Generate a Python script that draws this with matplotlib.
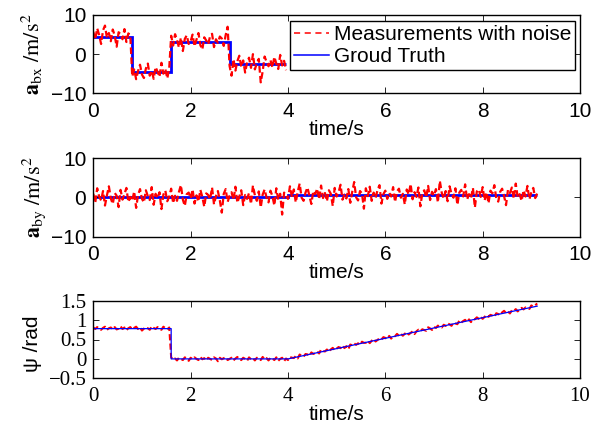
import numpy as np
import matplotlib
matplotlib.use("Agg")
import matplotlib.pyplot as plt
from matplotlib import ticker

plt.rcParams["mathtext.fontset"] = "stix"
plt.rcParams["axes.unicode_minus"] = True

SANS = "Liberation Sans"
SERIF = "Liberation Serif"
FS = 15

# ---- sample grid (s) ----
dt = 0.04
n_long = 229            # 0 .. 9.12 s
n_short = 100           # 0 .. 3.96 s

# ---- a_bx : ground truth steps and measurement noise ----
abx_edges = [0.0, 0.8, 1.6, 2.8, 3.96]
abx_levels = [4.5, -4.6, 3.1, -2.6]
abx_noise = [
    1.2, -0.8, 2.1, 0.4, -1.9, 1.6, 2.8, -0.3, 0.9, -1.2, 1.8, 0.2, -2.6, 1.1, 0.6, -0.7, 1.9, -1.4, 0.8, 0.3,
    -1.1, 0.7, -1.8, 0.3, 1.9, -0.6, -1.5, 0.9, 2.2, -0.9, 0.4, -1.7, 1.3, 0.1, -1.2, 2.4, -0.4, 0.8, -1.6, 1.0,
    1.6, -0.9, 2.0, 0.5, -1.4, 1.1, -2.3, 0.8, 1.7, -0.5, 0.2, 1.9, -1.1, 0.6, 2.3, -0.8, -1.9, 1.2, 0.4, -0.6,
    1.5, 2.1, -1.3, 0.7, -0.2, 1.4, 0.9, -1.0, 1.8, 3.9,
    -0.4, -2.9, 1.3, -1.6, 0.8, 2.2, -0.7, 1.0, -2.1, 0.5, 1.7, -0.9, 2.6, -1.3, 0.3, 1.4, -4.6, -1.8, 2.0, 0.6,
    -0.5, 1.1, -0.8, 1.9, 0.2, -1.2, 2.4, -0.3, 0.9, -1.5,
]

# ---- a_by : ground truth steps and measurement noise ----
aby_edges = [0.0, 4.0, 9.12]
aby_levels = [0.05, 0.65]
aby_noise = [
    0.9, -1.4, 2.3, 0.2, -0.8, 1.6, -2.1, 0.5, 2.8, -0.3, -1.7, 1.1, 0.4, -2.5, 1.9, -0.6, 0.8, 2.4, -1.2, 0.1,
    -0.9, 1.5, -2.7, 0.6, 2.1, -0.4, -1.3, 1.8, 0.3, -0.7, 2.6, -1.9, 0.9, -0.2, 1.3, -3.0, 0.7, 1.7, -1.0, 0.2,
    2.2, -1.5, 0.4, -0.9, 1.4, 3.1, -0.6, -2.2, 0.8, 1.2, -0.3, 2.0, -1.6, 0.5, -1.1, 1.9, 0.1, -2.4, 1.0, 0.6,
    -0.5, 2.5, -1.8, 0.3, 1.6, -0.8, -3.9, 0.9, 2.1, -1.2, 0.4, 1.3, -0.7, 2.7, -1.4, 0.2, 1.8, -2.0, 0.6, -0.4,
    1.1, -1.7, 3.0, 0.5, -0.9, 1.5, -2.6, 0.7, 2.0, -0.1, -1.3, 1.7, 0.3, -2.1, 2.3, -0.6, 0.9, -4.4, 1.2, 0.4,
    -1.0, 2.2, -0.5, 1.4, -1.9, 0.8, 2.9, -0.7, -1.5, 0.6, 1.9, -0.2, -2.3, 1.0, 0.2, 1.6, -1.1, 2.4, -0.8, 0.5,
    -1.6, 1.2, 0.3, -2.8, 1.8, -0.4, 0.7, 2.6, -1.2, 0.1, -0.9, 1.5, -2.0, 0.8, 3.3, -0.6, -1.4, 1.0, 0.4, -3.5,
    1.7, -0.3, 2.1, -1.5, 0.6, -0.8, 1.3, 2.5, -2.2, 0.2, 1.1, -1.0, 0.5, -0.4, 2.0, -1.8, 0.9, 1.6, -0.7, 0.3,
    -2.4, 1.4, 0.1, 2.8, -1.1, 0.7, -0.5, 1.9, -2.9, 0.4, 1.2, -0.6, 2.3, -1.3, 0.8, -0.2, 1.5, -1.9, 3.6, 0.5,
    -0.9, 1.0, -1.6, 2.2, 0.3, -0.7, 1.7, -2.5, 0.6, 1.3, -0.4, 2.7, -1.2, 0.2, -0.8, 1.8, -3.2, 0.9, 1.4, -0.5,
    2.0, -1.4, 0.7, -2.1, 1.1, 0.4, 2.5, -0.9, -1.7, 0.8, 1.6, -0.3, -2.6, 1.3, 0.5, 1.9, -1.0, 2.9, -0.6, 0.2,
    -1.5, 1.2, -0.4, 2.3, -1.1, 0.6, 1.8, -0.8, 0.4,
]

# ---- heading psi : ground truth knots and measurement noise ----
psi_knot_t = [0.0, 1.6, 1.6, 4.0, 9.12]
psi_knot_v = [0.78, 0.78, 0.0, 0.0, 1.36]
psi_noise = [
    0.03, -0.01, 0.04, 0.00, -0.03, 0.02, 0.05, -0.03, 0.01, 0.03, -0.02, 0.04, -0.02, 0.00, 0.06, -0.01, 0.03, -0.04, 0.01, 0.04,
    -0.02, 0.02, 0.05, -0.01, 0.03, -0.05, 0.00, 0.04, 0.01, -0.03, 0.06, 0.02, -0.01, 0.04, 0.00, -0.03, 0.05, 0.01, -0.02, 0.03,
    0.04, -0.02, 0.01, -0.04, 0.03, 0.00, -0.03, 0.04, 0.01, -0.05, 0.03, -0.01, 0.04, 0.00, -0.03, 0.05, -0.01, 0.02, -0.04, 0.03,
    0.00, -0.03, 0.04, 0.01, -0.06, 0.03, -0.01, 0.02, 0.04, -0.03, 0.00, 0.03, -0.04, 0.01, 0.05, -0.01, -0.03, 0.03, 0.00, -0.05,
    0.04, -0.01, 0.02, -0.04, 0.03, 0.00, -0.03, 0.05, -0.01, 0.02, -0.04, 0.03, 0.01, -0.03, 0.04, -0.05, 0.00, 0.03, -0.06, 0.01,
    -0.03, 0.04, 0.01, -0.01, 0.03, -0.04, 0.05, 0.00, -0.03, 0.03, 0.01, -0.04, 0.04, -0.01, 0.00, 0.03, -0.03, 0.06, 0.01, -0.01,
    0.03, -0.04, 0.01, 0.04, -0.03, 0.00, 0.03, -0.01, 0.05, -0.03, 0.01, -0.08, 0.03, 0.00, 0.04, -0.01, 0.02, -0.03, 0.04, 0.00,
    -0.01, 0.03, -0.04, 0.01, 0.05, -0.03, 0.00, 0.03, -0.01, 0.04, 0.01, -0.03, 0.04, -0.04, 0.01, 0.00, 0.05, -0.01, 0.03, -0.03,
    0.01, 0.04, -0.03, 0.00, 0.03, -0.05, 0.01, 0.04, -0.01, 0.03, 0.00, -0.03, 0.05, 0.01, -0.04, 0.03, -0.01, 0.04, 0.00, -0.03,
    0.03, -0.01, 0.04, 0.01, -0.04, 0.03, 0.00, -0.03, 0.05, -0.01, 0.02, 0.04, -0.03, 0.03, -0.05, 0.01, 0.00, 0.04, -0.01, 0.03,
    -0.03, 0.01, 0.05, -0.01, 0.03, 0.00, -0.04, 0.04, 0.01, -0.03, 0.03, 0.06, -0.01, 0.02, -0.04, 0.03, 0.00, 0.04, -0.03, 0.01,
    0.04, -0.01, 0.03, 0.00, -0.03, 0.05, 0.01, 0.03, 0.07,
]

x_ticks = [0, 2, 4, 6, 8, 10]
acc_ticks = [-10, 0, 10]
psi_ticks = [-0.5, 0, 0.5, 1, 1.5]
legend_labels = ["Measurements with noise", "Groud Truth"]

RED = (1, 0, 0)
BLUE = (0, 0, 1)


def step_values(t, edges, levels):
    idx = np.searchsorted(edges, t, side="right") - 1
    idx = np.clip(idx, 0, len(levels) - 1)
    return np.asarray(levels)[idx]


t_short = np.round(np.arange(n_short) * dt, 2)
t_long = np.round(np.arange(n_long) * dt, 2)

abx_meas = step_values(t_short, abx_edges, abx_levels) + np.asarray(abx_noise)
aby_meas = step_values(t_long, aby_edges, aby_levels) + np.asarray(aby_noise)
psi_meas = np.interp(t_long, psi_knot_t, psi_knot_v) + np.asarray(psi_noise)

fig = plt.figure(figsize=(5.92, 4.30), dpi=100)
W, H = 592, 430


def add_axes(top_px, bottom_px, left_px=93.3, right_px=580):
    return fig.add_axes([left_px / W, 1 - bottom_px / H,
                         (right_px - left_px) / W, (bottom_px - top_px) / H])


ax1 = add_axes(15, 93.3)
ax2 = add_axes(158.3, 236.7)
ax3 = add_axes(300.7, 378.3)


def style(ax, tick_family):
    ax.set_xlim(0, 10)
    ax.set_xticks(x_ticks)
    ax.tick_params(direction="in", length=4, width=0.6, top=True, right=True,
                   labelsize=FS, pad=5, colors="black")
    ax.tick_params(axis="x", pad=6)
    for lab in ax.get_xticklabels() + ax.get_yticklabels():
        lab.set_fontfamily(tick_family)
    for sp in ax.spines.values():
        sp.set_linewidth(1.0)
        sp.set_color("black")
    ax.set_xlabel("time/s", fontsize=FS, fontfamily=SANS)
    ax.xaxis.set_label_coords(0.5, -0.34)


fmt = ticker.FuncFormatter(lambda v, _: f"{v:g}".replace("-", "\u2212"))
DASH = (0, (3, 1.5))

# --- a_bx ---
ax1.plot(t_short, abx_meas, color=RED, lw=1.6, ls=DASH, label=legend_labels[0])
ax1.stairs(abx_levels, abx_edges, color=BLUE, lw=2.0, baseline=None, label=legend_labels[1])
ax1.set_ylim(-10, 10)
ax1.set_yticks(acc_ticks)
ax1.yaxis.set_major_formatter(fmt)
style(ax1, SANS)
ax1.set_ylabel(r"$\mathbf{a}_{\mathrm{bx}}\ /\mathrm{m/s}^2$", fontsize=FS + 1)
ax1.yaxis.set_label_coords(-0.10, 0.5)
leg = ax1.legend(loc="upper right", bbox_to_anchor=(0.99, 0.925), borderaxespad=0,
                 prop={"family": SANS, "size": FS}, frameon=True, fancybox=False,
                 framealpha=1, edgecolor="black", handlelength=1.7, handletextpad=0.2,
                 labelspacing=0.15, borderpad=0.2)
leg.get_frame().set_linewidth(1.0)
for ln in leg.get_lines():
    ln.set_linewidth(1.1)
leg.get_lines()[0].set_dashes((4, 3))

# --- a_by ---
ax2.plot(t_long, aby_meas, color=RED, lw=1.6, ls=DASH)
ax2.stairs(aby_levels, aby_edges, color=BLUE, lw=2.0, baseline=None)
ax2.set_ylim(-10, 10)
ax2.set_yticks(acc_ticks)
ax2.yaxis.set_major_formatter(fmt)
style(ax2, SANS)
ax2.set_ylabel(r"$\mathbf{a}_{\mathrm{by}}\ /\mathrm{m/s}^2$", fontsize=FS + 1)
ax2.yaxis.set_label_coords(-0.094, 0.5)

# --- psi ---
ax3.plot(t_long, psi_meas, color=RED, lw=1.5, ls=DASH)
ax3.plot(psi_knot_t, psi_knot_v, color=BLUE, lw=0.9)
ax3.set_ylim(-0.5, 1.5)
ax3.set_yticks(psi_ticks)
ax3.yaxis.set_major_formatter(fmt)
style(ax3, SERIF)
ax3.set_ylabel("\u03c8 /rad", fontsize=FS, fontfamily=SANS)
ax3.yaxis.set_label_coords(-0.105, 0.45)

fig.savefig("out.png", dpi=100)
